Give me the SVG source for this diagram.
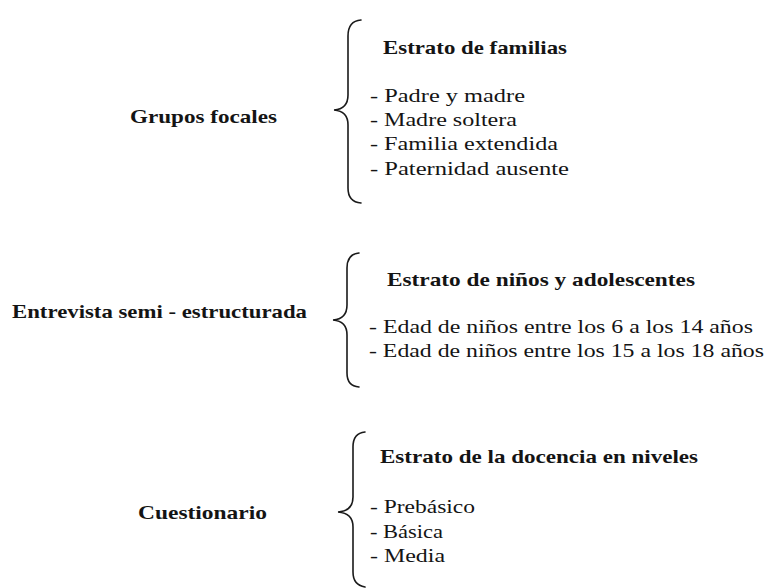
<svg xmlns="http://www.w3.org/2000/svg" width="768" height="588" viewBox="0 0 768 588">
<style>
text{font-family:"Liberation Serif","DejaVu Serif",serif;font-size:19px;fill:#141414}
.b{font-weight:bold}
.brace{fill:none;stroke:#1a1a1a;stroke-width:1.6;stroke-linecap:round}
</style>
<rect width="768" height="588" fill="#ffffff"/>
<g id="connectors">
<path class="brace" d="M361,20 Q348,21 348,36 L348,95 Q348,109 334,110 Q348,111 348,125 L348,188 Q348,202 361,203"/>
<path class="brace" d="M359,253 Q347,254 347,268 L347,305 Q347,319 333,320 Q347,321 347,335 L347,373 Q347,386 359,387"/>
<path class="brace" d="M365,432 Q353,433 353,447 L353,497 Q353,511 338,512 Q353,513 353,527 L353,572 Q353,585 365,587"/>
</g>
<g id="grupos-focales"><text class="b" x="130" y="123" textLength="147" lengthAdjust="spacingAndGlyphs">Grupos focales</text></g>
<g id="estrato-familias">
<text class="b" x="383" y="54" textLength="184" lengthAdjust="spacingAndGlyphs">Estrato de familias</text>
<text x="370" y="102" textLength="155" lengthAdjust="spacingAndGlyphs">- Padre y madre</text>
<text x="370" y="126" textLength="147" lengthAdjust="spacingAndGlyphs">- Madre soltera</text>
<text x="370" y="150" textLength="188" lengthAdjust="spacingAndGlyphs">- Familia extendida</text>
<text x="370" y="175" textLength="199" lengthAdjust="spacingAndGlyphs">- Paternidad ausente</text>
</g>
<g id="entrevista"><text class="b" x="12" y="318" textLength="295" lengthAdjust="spacingAndGlyphs">Entrevista semi - estructurada</text></g>
<g id="estrato-ninos">
<text class="b" x="387" y="286" textLength="308" lengthAdjust="spacingAndGlyphs">Estrato de niños y adolescentes</text>
<text x="369" y="333" textLength="384" lengthAdjust="spacingAndGlyphs">- Edad de niños entre los 6 a los 14 años</text>
<text x="369" y="357" textLength="395" lengthAdjust="spacingAndGlyphs">- Edad de niños entre los 15 a los 18 años</text>
</g>
<g id="cuestionario"><text class="b" x="138" y="519" textLength="129" lengthAdjust="spacingAndGlyphs">Cuestionario</text></g>
<g id="estrato-docencia">
<text class="b" x="380" y="463" textLength="318" lengthAdjust="spacingAndGlyphs">Estrato de la docencia en niveles</text>
<text x="370" y="513" textLength="105" lengthAdjust="spacingAndGlyphs">- Prebásico</text>
<text x="370" y="538" textLength="73" lengthAdjust="spacingAndGlyphs">- Básica</text>
<text x="370" y="562" textLength="75" lengthAdjust="spacingAndGlyphs">- Media</text>
</g>
</svg>
